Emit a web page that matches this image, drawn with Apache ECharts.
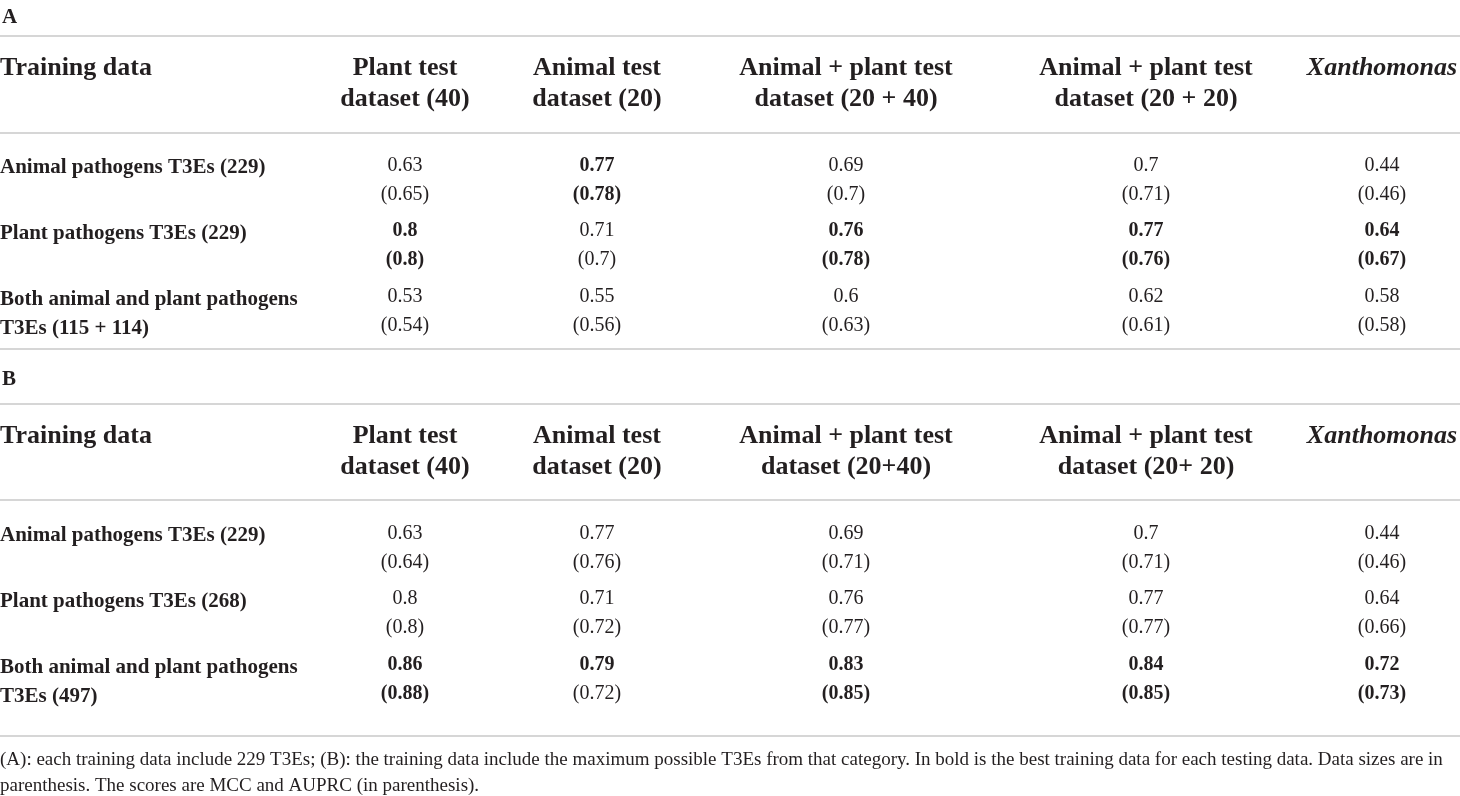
<!DOCTYPE html>
<html>
<head>
<meta charset="utf-8">
<title>T3E training data table</title>
<script src="https://cdn.jsdelivr.net/npm/echarts@6/dist/echarts.min.js"></script>
<style>
  html, body { margin: 0; padding: 0; background: #fff; }
  #table { width: 1460px; height: 796px; }
</style>
</head>
<body>
<div id="table"></div>
<script>
// column headers of both panels
const headerLeft = 'Training data'
const columnsA = ['Plant test\ndataset (40)', 'Animal test\ndataset (20)', 'Animal + plant test\ndataset (20 + 40)', 'Animal + plant test\ndataset (20 + 20)', 'Xanthomonas']
const columnsB = ['Plant test\ndataset (40)', 'Animal test\ndataset (20)', 'Animal + plant test\ndataset (20+40)', 'Animal + plant test\ndataset (20+ 20)', 'Xanthomonas']

// training data rows
const rowsA = ['Animal pathogens T3Es (229)', 'Plant pathogens T3Es (229)', 'Both animal and plant pathogens\nT3Es (115 + 114)']
const rowsB = ['Animal pathogens T3Es (229)', 'Plant pathogens T3Es (268)', 'Both animal and plant pathogens\nT3Es (497)']

// MCC scores
const mccA = [
    [0.63, 0.77, 0.69, 0.7, 0.44],
    [0.8, 0.71, 0.76, 0.77, 0.64],
    [0.53, 0.55, 0.6, 0.62, 0.58]
]
const mccB = [
    [0.63, 0.77, 0.69, 0.7, 0.44],
    [0.8, 0.71, 0.76, 0.77, 0.64],
    [0.86, 0.79, 0.83, 0.84, 0.72]
]
// AUPRC scores (in parenthesis)
const auprcA = [
    [0.65, 0.78, 0.7, 0.71, 0.46],
    [0.8, 0.7, 0.78, 0.76, 0.67],
    [0.54, 0.56, 0.63, 0.61, 0.58]
]
const auprcB = [
    [0.64, 0.76, 0.71, 0.71, 0.46],
    [0.8, 0.72, 0.77, 0.77, 0.66],
    [0.88, 0.72, 0.85, 0.85, 0.73]
]
// which cells are printed in bold (1 = bold)
const boldMccA = [[0, 1, 0, 0, 0], [1, 0, 1, 1, 1], [0, 0, 0, 0, 0]]
const boldAucA = [[0, 1, 0, 0, 0], [1, 0, 1, 1, 1], [0, 0, 0, 0, 0]]
const boldMccB = [[0, 0, 0, 0, 0], [0, 0, 0, 0, 0], [1, 1, 1, 1, 1]]
const boldAucB = [[0, 0, 0, 0, 0], [0, 0, 0, 0, 0], [1, 0, 1, 1, 1]]

const footnote = '(A): each training data include 229 T3Es; (B): the training data include the maximum possible T3Es from that category. In bold is the best training data for each testing data. Data sizes are in\nparenthesis. The scores are MCC and AUPRC (in parenthesis).'

// layout
const FONT = "'Liberation Serif', 'DejaVu Serif', serif"
const INK = '#231f20'
const RULE = '#c9c9c9'
const W = 1460
const colX = [0, 405, 597, 846, 1146, 1382]
const panels = [
    { key: 'A', top: 147, rules: [36, 133, 349], labelY: 18, headY: 68, columns: columnsA, rows: rowsA, mcc: mccA, auprc: auprcA, bm: boldMccA, ba: boldAucA },
    { key: 'B', top: 515, rules: [404, 500, 736], labelY: 380, headY: 436, columns: columnsB, rows: rowsB, mcc: mccB, auprc: auprcB, bm: boldMccB, ba: boldAucB }
]
const ROW_H = 197
const LINE_GAP = 29

const chart = echarts.init(document.getElementById('table'), null, { renderer: 'canvas' })

// static parts: rules, panel letters, headers, footnote
let graphics = []
panels.forEach(p => {
    p.rules.forEach(y => {
        graphics.push({
            type: 'line',
            shape: { x1: 0, y1: y, x2: W, y2: y },
            style: { stroke: RULE, lineWidth: 1.6 }
        })
    })
    graphics.push({
        type: 'text', x: 2, y: p.labelY,
        style: { text: p.key, fill: INK, font: `bold 21px ${FONT}`, verticalAlign: 'middle' }
    })
    graphics.push({
        type: 'text', x: 0, y: p.headY,
        style: { text: headerLeft, fill: INK, font: `bold 26px ${FONT}`, verticalAlign: 'middle' }
    })
    p.columns.forEach((c, i) => {
        const italic = c === 'Xanthomonas'
        graphics.push({
            type: 'text', x: colX[i + 1], y: p.headY - 15.5,
            style: {
                text: c, fill: INK,
                font: `${italic ? 'italic ' : ''}bold 26px ${FONT}`,
                align: 'center', verticalAlign: 'top', lineHeight: 31
            }
        })
    })
})
graphics.push({
    type: 'text', x: 0, y: 747,
    style: { text: footnote, fill: INK, font: `19px ${FONT}`, verticalAlign: 'top', lineHeight: 26 }
})

// body cells: [column, row, panel]
const cellData = []
panels.forEach((p, pi) => {
    p.rows.forEach((r, ri) => {
        for (let ci = 0; ci <= p.columns.length; ci++) {
            cellData.push([ci, ri, pi])
        }
    })
})

function renderCell(pi) {
    return (params, api) => {
        const p = panels[pi]
        const ci = api.value(0)
        const ri = api.value(1)
        const y = api.coord([0, ri])[1]
        if (ci === 0) {
            return {
                type: 'text',
                style: {
                    text: p.rows[ri], x: colX[0], y: y - LINE_GAP / 2 - 12,
                    fill: INK, font: `bold 21px ${FONT}`, verticalAlign: 'top', lineHeight: LINE_GAP
                }
            }
        }
        const k = ci - 1
        return {
            type: 'group',
            children: [{
                type: 'text',
                style: {
                    text: String(p.mcc[ri][k]), x: colX[ci], y: y - LINE_GAP / 2,
                    fill: INK, font: `${p.bm[ri][k] ? 'bold ' : ''}20px ${FONT}`,
                    align: 'center', verticalAlign: 'middle'
                }
            }, {
                type: 'text',
                style: {
                    text: '(' + p.auprc[ri][k] + ')', x: colX[ci], y: y + LINE_GAP / 2,
                    fill: INK, font: `${p.ba[ri][k] ? 'bold ' : ''}20px ${FONT}`,
                    align: 'center', verticalAlign: 'middle'
                }
            }]
        }
    }
}

const option = {
    animation: false,
    backgroundColor: '#fff',
    grid: panels.map(p => ({ left: 0, right: 0, top: p.top, height: ROW_H })),
    xAxis: panels.map((p, i) => ({ type: 'value', gridIndex: i, min: 0, max: 5, show: false })),
    yAxis: panels.map((p, i) => ({ type: 'category', gridIndex: i, data: p.rows, inverse: true, show: false })),
    graphic: graphics,
    series: panels.map((p, pi) => ({
        type: 'custom',
        xAxisIndex: pi,
        yAxisIndex: pi,
        renderItem: renderCell(pi),
        data: cellData.filter(d => d[2] === pi)
    }))
}
chart.setOption(option)
</script>
</body>
</html>
